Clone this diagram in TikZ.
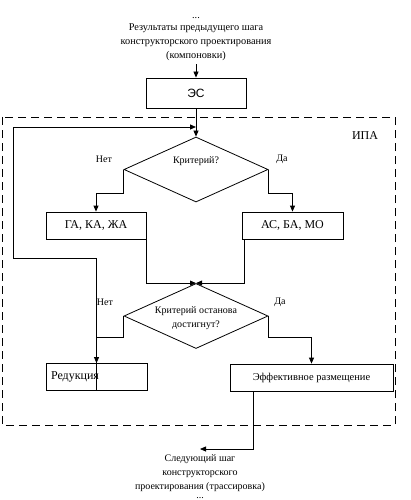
\documentclass[tikz,border=0pt]{standalone}
\usepackage{fontspec}
\setmainfont{Liberation Serif}
\setsansfont{Liberation Sans}
\usetikzlibrary{positioning,shapes.geometric,arrows.meta}

\begin{document}
\begin{tikzpicture}[x=1pt,y=-1pt,line width=0.8pt,
	every node/.style={font=\fontsize{10}{14}\selectfont},
	blk/.style={draw,minimum height=27pt,inner sep=0pt,font=\fontsize{12}{14}\selectfont},
	decision/.style={draw,diamond,minimum width=144pt,minimum height=65pt,inner sep=0pt},
	arr/.style={-{Triangle[length=6pt,width=5pt]}},
	]
	\useasboundingbox (0,0) rectangle (410,500);
	
	\draw[dash pattern=on 8pt off 5pt] (2,117) rectangle (395,425);
	\node[font=\fontsize{12}{14}\selectfont] (ipa) at (365,136) {ИПА};
	
	\node[align=center,font=\fontsize{10.3}{14}\selectfont] (prev) at (196,39) {...\\[-2pt]Результаты предыдущего шага\\конструкторского проектирования\\(компоновки)};
	\node[blk,minimum width=100pt,minimum height=30pt,font=\sffamily\fontsize{12}{14}\selectfont] (es) at (196,93) {ЭС};
	
	\node[decision] (k1) at (196,169.5) {};
	\node (k1txt) at (196,161) {Критерий?};
	
	\node[blk,minimum width=100pt] (ga) at (96,225.5) {ГА, КА, ЖА};
	\node[blk,minimum width=101pt] (as) at (292.5,225.5) {АС, БА, МО};
	
	\node[decision] (k2) at (196,316) {};
	\node[align=center] (k2txt) at (196,318) {Критерий останова\\достигнут?};
	
	\node[blk,minimum width=101pt,text width=91pt,align=left] (red) at (96.5,377) {Редукция};
	\node[blk,minimum width=163pt,font=\fontsize{10.5}{14}\selectfont] (eff) at (311.5,377.5) {Эффективное размещение};
	
	\coordinate (loop) at (196,127);
	\coordinate (next) at (200,449);
	\node[align=center,below=2pt of next] (nxt) {Следующий шаг\\конструкторского\\проектирования (трассировка)\\[-5pt]...};
	
	\node at (104,159) {Нет};
	\node at (282,159) {Да};
	\node at (105,302) {Нет};
	\node at (280,302) {Да};
	
	\draw[arr] (prev.south) -- (es.north);
	\draw[arr] (es) -- (k1);
	\draw[arr] (k1.west) -- ++(0,23.5) -| (ga.north);
	\draw[arr] (k1.east) -- ++(0,23.5) -| (as.north);
	\draw[arr] (ga.south east) |- (k2.north);
	\draw[arr] ([xshift=3pt]as.south west) |- (k2.north);
	\draw[arr] (k2.west) -- ++(0,21) -| (red.north);
	\draw[arr] (k2.east) -- ++(0,21) -| (eff.north);
	\draw[arr] (red.south) -- ++(0,-133) -| (13,127) -- (loop);
	\draw[arr] ([xshift=24pt]eff.south west) |- (next);
\end{tikzpicture}
\end{document}
